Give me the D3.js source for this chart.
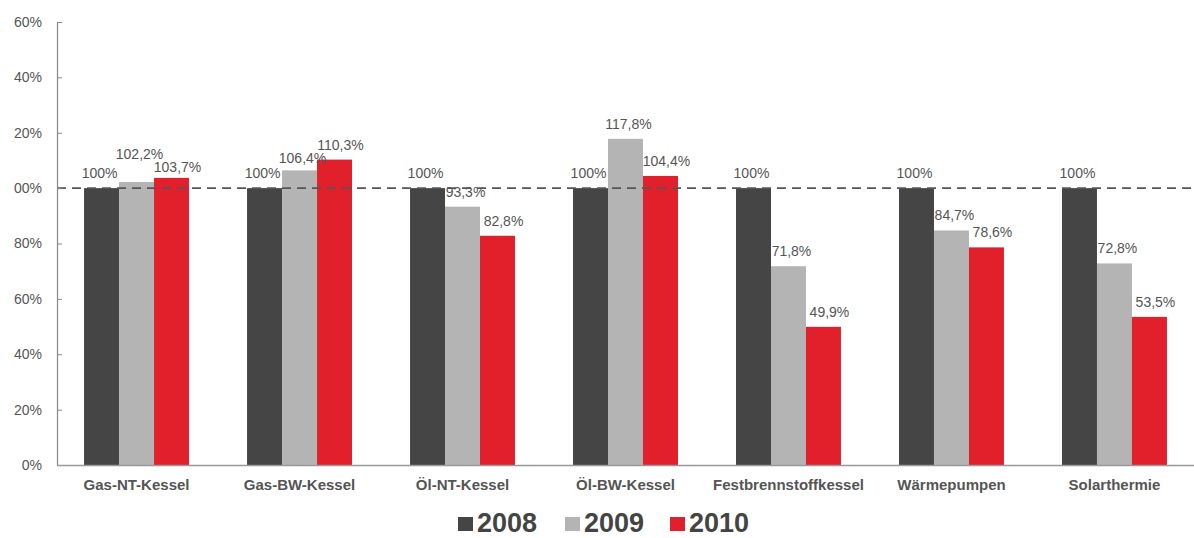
<!DOCTYPE html>
<html>
<head>
<meta charset="utf-8">
<script src="https://cdn.jsdelivr.net/npm/d3@7"></script>
<style>
  body { margin: 0; background: #fff; }
  svg { display: block; font-family: "Liberation Sans", Arial, sans-serif; }
</style>
</head>
<body>
<div id="chart"></div>
<script>
// data
var categories = ["Gas-NT-Kessel", "Gas-BW-Kessel", "Öl-NT-Kessel", "Öl-BW-Kessel",
    "Festbrennstoffkessel", "Wärmepumpen", "Solarthermie"];
var years = ["2008", "2009", "2010"];
var values2008 = [100, 100, 100, 100, 100, 100, 100];
var values2009 = [102.2, 106.4, 93.3, 117.8, 71.8, 84.7, 72.8];
var values2010 = [103.7, 110.3, 82.8, 104.4, 49.9, 78.6, 53.5];
var yTicks = [0, 20, 40, 60, 80, 100, 120, 140, 160];
var yTickLabels = ["0%", "20%", "40%", "60%", "80%", "00%", "20%", "40%", "60%"];

var outwidth = 1194,
    outheight = 538;
var margin = { left: 57, top: 22, right: 0, bottom: 73 };
var colors = ["#454545", "#b4b4b4", "#e2202b"];
var series = [values2008, values2009, values2010];
var labelFont = 14;
var labelShift = [-2, 3, 6];

var svg = d3.select("#chart")
    .append("svg")
    .attr("width", outwidth)
    .attr("height", outheight);

var x = d3.scaleBand()
    .domain(categories)
    .range([margin.left, outwidth - margin.right])
    .paddingInner(0.356)
    .paddingOuter(0.166);

var xs = d3.scaleBand()
    .domain(years)
    .range([0, x.bandwidth()]);

var y = d3.scaleLinear()
    .domain([0, 160])
    .range([outheight - margin.bottom, margin.top]);

var fmt = function (v) {
    return Number.isInteger(v) ? v + "%" : d3.format(".1f")(v).replace(".", ",") + "%";
};

// bars
var rows = [];
categories.forEach(function (c, i) {
    years.forEach(function (yr, j) {
        rows.push({ cat: c, year: yr, idx: j, value: series[j][i] });
    });
});

svg.selectAll(".bar-item")
    .data(rows)
    .join("rect")
    .attr("class", "bar-item")
    .attr("x", d => x(d.cat) + xs(d.year))
    .attr("y", d => y(d.value))
    .attr("width", xs.bandwidth())
    .attr("height", d => y(0) - y(d.value))
    .attr("fill", d => colors[d.idx]);

// dashed 100% line
svg.append("line")
    .attr("x1", margin.left)
    .attr("x2", outwidth)
    .attr("y1", y(100))
    .attr("y2", y(100))
    .attr("stroke", "#555")
    .attr("stroke-width", 1.6)
    .attr("stroke-dasharray", "9,6");

// value labels above bars
var valText = svg.selectAll(".bar-val")
    .data(rows)
    .join("text")
    .attr("class", "bar-val")
    .attr("x", d => x(d.cat) + xs(d.year) + xs.bandwidth() / 2 + labelShift[d.idx])
    .attr("text-anchor", "middle")
    .style("font-size", labelFont + "px")
    .style("fill", "#555")
    .text(d => fmt(d.value));

// push apart labels that collide inside a group (the 2008 label stays put)
var labels = [];
valText.each(function (d) {
    var w = this.getComputedTextLength();
    var cx = x(d.cat) + xs(d.year) + xs.bandwidth() / 2 + labelShift[d.idx];
    var b = y(d.value) - 10;
    labels.push({ d: d, node: this, x0: cx - w / 2, x1: cx + w / 2, b: b,
        maxB: d.idx === 0 ? b : y(d.value) - 6 });
});
var sep = 13;
categories.forEach(function (c) {
    var g = labels.filter(l => l.d.cat === c);
    for (var j = 1; j < g.length; j++) {
        var a = g[j - 1], n = g[j];
        var overlapX = a.x1 > n.x0 && n.x1 > a.x0;
        if (overlapX && Math.abs(a.b - n.b) < sep) {
            var hi = a.b <= n.b ? a : n;
            var lo = hi === a ? n : a;
            var need = sep - (lo.b - hi.b);
            var down = Math.max(0, Math.min(need, lo.maxB - lo.b));
            lo.b += down;
            hi.b -= need - down;
        }
    }
});
labels.forEach(l => d3.select(l.node).attr("y", l.b));

// y axis
var yAxis = d3.axisLeft(y)
    .tickValues(yTicks)
    .tickFormat((d, i) => yTickLabels[i])
    .tickSizeInner(-5)
    .tickSizeOuter(0)
    .tickPadding(15);

var gy = svg.append("g")
    .attr("transform", `translate(${margin.left},0)`)
    .call(yAxis);
gy.select(".domain").attr("stroke", "#888").attr("stroke-width", 1.2);
gy.selectAll(".tick line").attr("stroke", "#888");
gy.selectAll(".tick text")
    .style("font-size", "14px")
    .style("fill", "#555")
    .style("font-family", "Liberation Sans, Arial, sans-serif");

// x axis
var xAxis = d3.axisBottom(x)
    .tickSize(0)
    .tickSizeOuter(0)
    .tickPadding(14);

var gx = svg.append("g")
    .attr("transform", `translate(0,${y(0)})`)
    .call(xAxis);
gx.select(".domain").attr("stroke", "#999").attr("stroke-width", 1.5);
gx.selectAll(".tick text")
    .style("font-size", "15px")
    .style("font-weight", "bold")
    .style("fill", "#555")
    .style("font-family", "Liberation Sans, Arial, sans-serif");

// legend
var legend = svg.append("g")
    .attr("transform", "translate(458,517)");
var item = legend.selectAll(".legend-item")
    .data(years)
    .join("g")
    .attr("class", "legend-item")
    .attr("transform", (d, i) => `translate(${[0, 107, 212][i]},0)`);
item.append("rect")
    .attr("width", 15)
    .attr("height", 14)
    .attr("fill", (d, i) => colors[i]);
item.append("text")
    .attr("x", 19)
    .attr("y", 15)
    .style("font-size", "27px")
    .style("font-weight", "bold")
    .style("fill", "#444")
    .text(d => d);
</script>
</body>
</html>
